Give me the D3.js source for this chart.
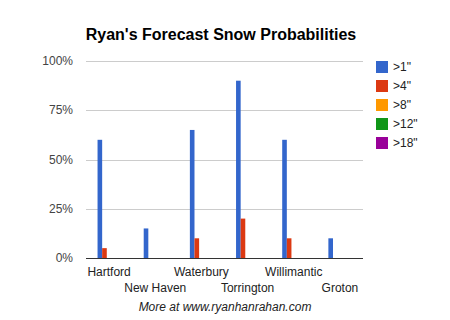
<!DOCTYPE html>
<html lang="en">
<meta charset="utf-8">
<head>
    <script src="https://d3js.org/d3.v7.min.js"></script>
    <style>
        body { margin: 0; background: #fff; }
        text { font-family: Arial, "Liberation Sans", sans-serif; }
    </style>
</head>
<body>
<div id="chart"></div>
<script>
// data
const towns = ['Hartford', 'New Haven', 'Waterbury', 'Torrington', 'Willimantic', 'Groton'];
const seriesNames = ['>1"', '>4"', '>8"', '>12"', '>18"'];
const over1 = [60, 15, 65, 90, 60, 10];
const over4 = [5, 0, 10, 20, 10, 0];
const over8 = [0, 0, 0, 0, 0, 0];
const over12 = [0, 0, 0, 0, 0, 0];
const over18 = [0, 0, 0, 0, 0, 0];
const yTicks = [0, 25, 50, 75, 100];
const colors = ['#3366cc', '#dc3912', '#ff9900', '#109618', '#990099'];

const allSeries = [over1, over4, over8, over12, over18];

const W = 450, H = 320;
const plotL = 86, plotR = 363, plotT = 61, plotB = 258;

const svg = d3.select('#chart').append('svg')
    .attr('width', W)
    .attr('height', H);

svg.append('rect').attr('width', W).attr('height', H).attr('fill', '#fff');

// title
svg.append('text')
    .attr('x', 221).attr('y', 40)
    .attr('text-anchor', 'middle')
    .attr('font-size', 16).attr('font-weight', 'bold')
    .attr('fill', '#000')
    .text("Ryan's Forecast Snow Probabilities");

const x = d3.scaleBand()
    .domain(towns)
    .range([plotL, plotR])
    .paddingInner(0.5).paddingOuter(0.25);

const xs = d3.scaleBand()
    .domain(seriesNames)
    .range([0, x.bandwidth()]);

const y = d3.scaleLinear()
    .domain([0, 100])
    .range([plotB, plotT]);

// gridlines
svg.append('g')
    .selectAll('line')
    .data(yTicks.filter(d => d > 0))
    .join('line')
    .attr('x1', plotL).attr('x2', plotR)
    .attr('y1', d => Math.round(y(d)) + 0.5)
    .attr('y2', d => Math.round(y(d)) + 0.5)
    .attr('stroke', '#cccccc');

// y labels
svg.append('g')
    .selectAll('text')
    .data(yTicks)
    .join('text')
    .attr('x', 73)
    .attr('y', d => y(d) + 4)
    .attr('text-anchor', 'end')
    .attr('font-size', 12)
    .attr('fill', '#444')
    .text(d => d + '%');

// bars
const groups = svg.append('g')
    .selectAll('g')
    .data(towns)
    .join('g')
    .attr('transform', d => `translate(${x(d)},0)`);

groups.selectAll('rect')
    .data((t, i) => seriesNames.map((s, j) => ({ s: s, v: allSeries[j][i], c: colors[j] })))
    .join('rect')
    .attr('x', d => xs(d.s))
    .attr('width', xs.bandwidth())
    .attr('y', d => y(d.v))
    .attr('height', d => y(0) - y(d.v))
    .attr('fill', d => d.c);

// baseline
svg.append('line')
    .attr('x1', plotL).attr('x2', plotR)
    .attr('y1', plotB + 0.5).attr('y2', plotB + 0.5)
    .attr('stroke', '#333');

// category labels, alternating rows
svg.append('g')
    .selectAll('text')
    .data(towns)
    .join('text')
    .attr('x', d => x(d) + x.bandwidth() / 2)
    .attr('y', (d, i) => i % 2 ? 292 : 276)
    .attr('text-anchor', 'middle')
    .attr('font-size', 12)
    .attr('fill', '#222')
    .text(d => d);

// footer
svg.append('text')
    .attr('x', 225).attr('y', 311)
    .attr('text-anchor', 'middle')
    .attr('font-size', 12)
    .attr('font-style', 'italic')
    .attr('fill', '#222')
    .text('More at www.ryanhanrahan.com');

// legend
const legend = svg.append('g')
    .selectAll('g')
    .data(seriesNames)
    .join('g')
    .attr('transform', (d, i) => `translate(376,${61 + i * 19})`);

legend.append('rect')
    .attr('width', 12).attr('height', 12)
    .attr('fill', (d, i) => colors[i]);

legend.append('text')
    .attr('x', 17).attr('y', 10)
    .attr('font-size', 12)
    .attr('fill', '#222')
    .text(d => d);
</script>
</body>
</html>
